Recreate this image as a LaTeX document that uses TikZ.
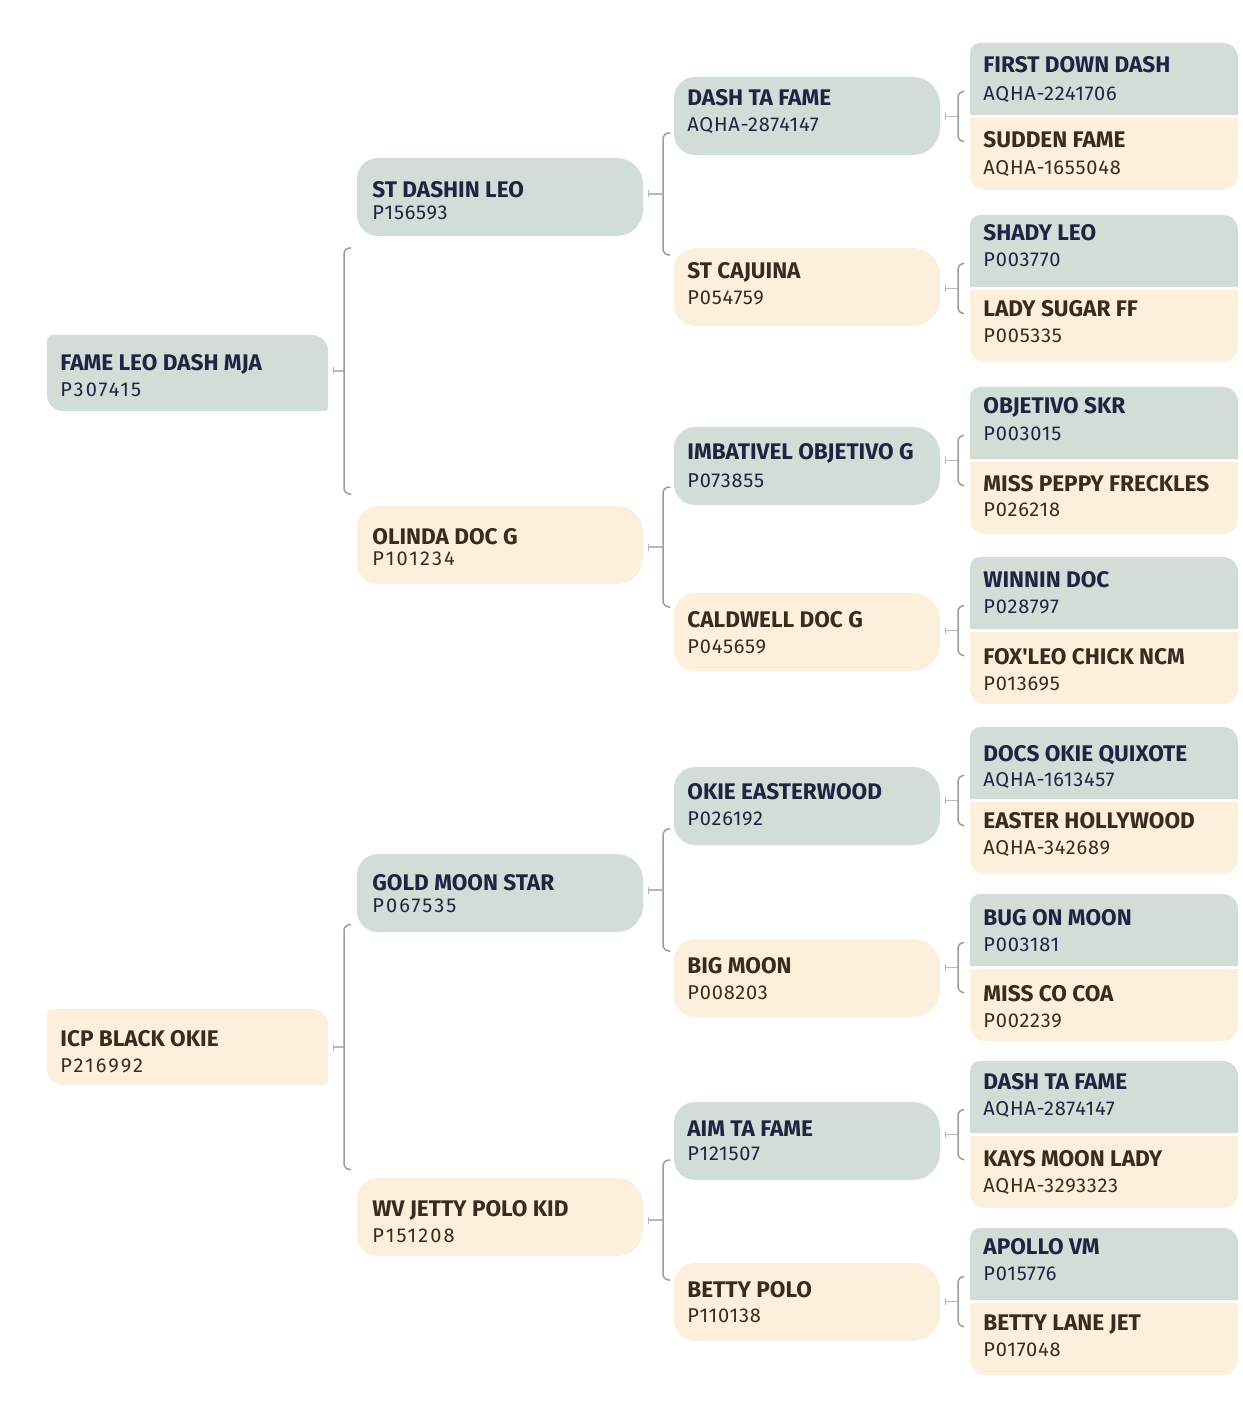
\documentclass[tikz,border=0pt]{standalone}
\usepackage{fontspec}
\setmainfont{Fira Sans}
\newfontfamily\idfont[LetterSpace=4]{Fira Sans}
\newfontfamily\idtrackfont[LetterSpace=10.5]{Fira Sans}
\definecolor{boxgreen}{HTML}{D3DDD8}
\definecolor{boxcream}{HTML}{FCF0DC}
\definecolor{navy}{HTML}{1F2442}
\definecolor{brownish}{HTML}{3A2B1F}
\definecolor{lineg}{HTML}{9C9C9C}
\definecolor{lineh}{HTML}{B8B8B8}
\tikzset{
  greenbox/.style={fill=boxgreen},
  creambox/.style={fill=boxcream},
  greentext/.style={text=navy},
  creamtext/.style={text=brownish},
  boxnode/.style={rectangle, inner sep=0pt, outer sep=0pt, draw=none},
  titlestyle/.style={anchor=base west, inner sep=0pt, font=\bfseries\fontsize{11.3}{13}\selectfont},
  idstyle/.style={anchor=base west, inner sep=0pt, font=\idfont\fontsize{10}{12}\selectfont},
  stubline/.style={draw=lineh, line width=0.6pt},
  tickline/.style={draw=lineh, line width=0.5pt},
  bracketline/.style={draw=lineg, line width=0.75pt, rounded corners=3pt},
}
% x1,y1,x2,y2 (pixels, y downwards), rTL,rTR,rBR,rBL, style
\newcommand\shapebox[9]{%
 \fill[#9] ({#1+#5},{-#2}) -- ({#3-#6},{-#2}) arc[start angle=90,end angle=0,radius=#6]
   -- ({#3},{-#4+#7}) arc[start angle=0,end angle=-90,radius=#7]
   -- ({#1+#8},{-#4}) arc[start angle=-90,end angle=-180,radius=#8]
   -- ({#1},{-#2-#5}) arc[start angle=180,end angle=90,radius=#5] -- cycle;}
\newcommand\horsebox[5]{%
 \node[boxnode, minimum width={(#4-#2)*0.5pt}, minimum height={(#5-#3)*0.5pt}] (#1) at ({(#2+#4)/2},{-(#3+#5)/2}) {};}
\newcommand\horsetext[7]{%
 \node[titlestyle,#5text] (#1-title) at (#2,-#3) {#6};
 \node[idstyle,#5text] (#1-id) at (#2,-#4) {#7};}
% name, y1, y2, scheme, title, id, title baseline, id baseline
\newcommand\Lone[8]{%
 \shapebox{47}{#2}{328}{#3}{6}{16}{3}{16}{#4box}
 \horsebox{#1}{47}{#2}{328}{#3}
 \horsetext{#1}{60}{#7}{#8}{#4}{#5}{#6}}
\newcommand\Ltwo[8]{%
 \shapebox{357}{#2}{643}{#3}{21}{26}{26}{21}{#4box}
 \horsebox{#1}{357}{#2}{643}{#3}
 \horsetext{#1}{372}{#7}{#8}{#4}{#5}{#6}}
\newcommand\Lthree[8]{%
 \shapebox{674}{#2}{940}{#3}{21}{27}{27}{21}{#4box}
 \horsebox{#1}{674}{#2}{940}{#3}
 \horsetext{#1}{687}{#7}{#8}{#4}{#5}{#6}}
% name, y1, y2, title, id, tb, ib
\newcommand\Lfourtop[7]{%
 \shapebox{970}{#2}{1238}{#3}{10}{15}{0.01}{0.01}{greenbox}
 \horsebox{#1}{970}{#2}{1238}{#3}
 \horsetext{#1}{983}{#6}{#7}{green}{#4}{#5}}
\newcommand\Lfourbot[7]{%
 \shapebox{970}{#2}{1238}{#3}{0.01}{0.01}{15}{15}{creambox}
 \horsebox{#1}{970}{#2}{1238}{#3}
 \horsetext{#1}{983}{#6}{#7}{cream}{#4}{#5}}
% parent, bracket x, stub y, half height, curl length
\newcommand\famconn[5]{%
 \coordinate (#1-j) at (#2,-#3);
 \coordinate (#1-bt) at ({#2+#5},{-#3+#4});
 \coordinate (#1-bb) at ({#2+#5},{-#3-#4});
 \draw[stubline] (#1.east |- #1-j) ++(2.5pt,0) -- (#1-j);
 \draw[tickline] (#1.east |- #1-j) ++(2.5pt,1.75pt) -- ++(0,-3.5pt);
 \draw[bracketline] (#1-bt) -- (#1-bt -| #1-j) -- (#1-bb -| #1-j) -- (#1-bb);}
\begin{document}
\begin{tikzpicture}[x=0.5pt,y=0.5pt]
\useasboundingbox (0,0) rectangle (1242,-1411);
\fill[white] (0,0) rectangle (1242,-1411);
% level 1
\Lone{fame}{335}{411}{green}{FAME LEO DASH MJA}{{\idtrackfont P307415}}{371}{397}
\Lone{icp}{1009}{1085}{cream}{ICP BLACK OKIE}{{\idtrackfont P216992}}{1046}{1072}
% level 2
\Ltwo{stdashin}{158}{236}{green}{ST DASHIN LEO}{P156593}{198}{220}
\Ltwo{olinda}{506}{584}{cream}{OLINDA DOC G}{{\idtrackfont P101234}}{544}{565}
\Ltwo{goldmoon}{854}{932}{green}{GOLD MOON STAR}{{\idtrackfont P067535}}{890}{912}
\Ltwo{wvjetty}{1178}{1256}{cream}{WV JETTY POLO KID}{{\idtrackfont P151208}}{1216}{1242}
% level 3
\Lthree{dashta}{77}{155}{green}{DASH TA FAME}{AQHA-2874147}{106}{132}
\Lthree{cajuina}{248}{326}{cream}{ST CAJUINA}{P054759}{279}{305}
\Lthree{imbativel}{427}{505}{green}{IMBATIVEL OBJETIVO G}{P073855}{459}{487}
\Lthree{caldwell}{593}{671}{cream}{CALDWELL DOC G}{P045659}{627}{653}
\Lthree{okie}{767}{845}{green}{OKIE EASTERWOOD}{P026192}{799}{825}
\Lthree{bigmoon}{939}{1017}{cream}{BIG MOON}{P008203}{973}{999}
\Lthree{aimta}{1102}{1180}{green}{AIM TA FAME}{P121507}{1136}{1160}
\Lthree{bettypolo}{1263}{1341}{cream}{BETTY POLO}{P110138}{1297}{1322}
% level 4
\Lfourtop{firstdown}{43}{115}{FIRST DOWN DASH}{AQHA-2241706}{73}{101}
\Lfourbot{suddenfame}{118}{190}{SUDDEN FAME}{AQHA-1655048}{148}{175}
\Lfourtop{shadyleo}{215}{287}{SHADY LEO}{P003770}{241}{267}
\Lfourbot{ladysugar}{290}{362}{LADY SUGAR FF}{P005335}{317}{343}
\Lfourtop{objetivo}{387}{459}{OBJETIVO SKR}{P003015}{414}{440}
\Lfourbot{misspeppy}{462}{534}{MISS PEPPY FRECKLES}{P026218}{491}{516}
\Lfourtop{winnin}{557}{629}{WINNIN DOC}{P028797}{587}{613}
\Lfourbot{foxleo}{632}{704}{FOX\textquotesingle LEO CHICK NCM}{P013695}{664}{690}
\Lfourtop{docsokie}{727}{799}{DOCS OKIE QUIXOTE}{AQHA-1613457}{761}{786}
\Lfourbot{easterholly}{802}{874}{EASTER HOLLYWOOD}{AQHA-342689}{828}{854}
\Lfourtop{bugon}{894}{966}{BUG ON MOON}{P003181}{925}{951}
\Lfourbot{misscoco}{969}{1041}{MISS CO COA}{P002239}{1001}{1027}
\Lfourtop{dashta2}{1061}{1133}{DASH TA FAME}{AQHA-2874147}{1089}{1115}
\Lfourbot{kaysmoon}{1136}{1208}{KAYS MOON LADY}{AQHA-3293323}{1166}{1192}
\Lfourtop{apollo}{1228}{1300}{APOLLO VM}{P015776}{1254}{1280}
\Lfourbot{bettylane}{1303}{1375}{BETTY LANE JET}{P017048}{1330}{1356}
% connectors level 1
\famconn{fame}{344}{371}{123}{7}
\famconn{icp}{344}{1047}{122.5}{7}
% connectors level 2
\famconn{stdashin}{663}{194}{61}{7}
\famconn{olinda}{663}{547}{60}{7}
\famconn{goldmoon}{663}{890}{61}{7}
\famconn{wvjetty}{663}{1220}{60}{7}
% connectors level 3
\famconn{dashta}{958}{116.5}{25}{5}
\famconn{cajuina}{958}{288.5}{25}{5}
\famconn{imbativel}{958}{460.5}{25}{5}
\famconn{caldwell}{958}{630.5}{25}{5}
\famconn{okie}{958}{800.5}{25}{5}
\famconn{bigmoon}{958}{967.5}{25}{5}
\famconn{aimta}{958}{1134.5}{25}{5}
\famconn{bettypolo}{958}{1301.5}{25}{5}
\end{tikzpicture}
\end{document}
